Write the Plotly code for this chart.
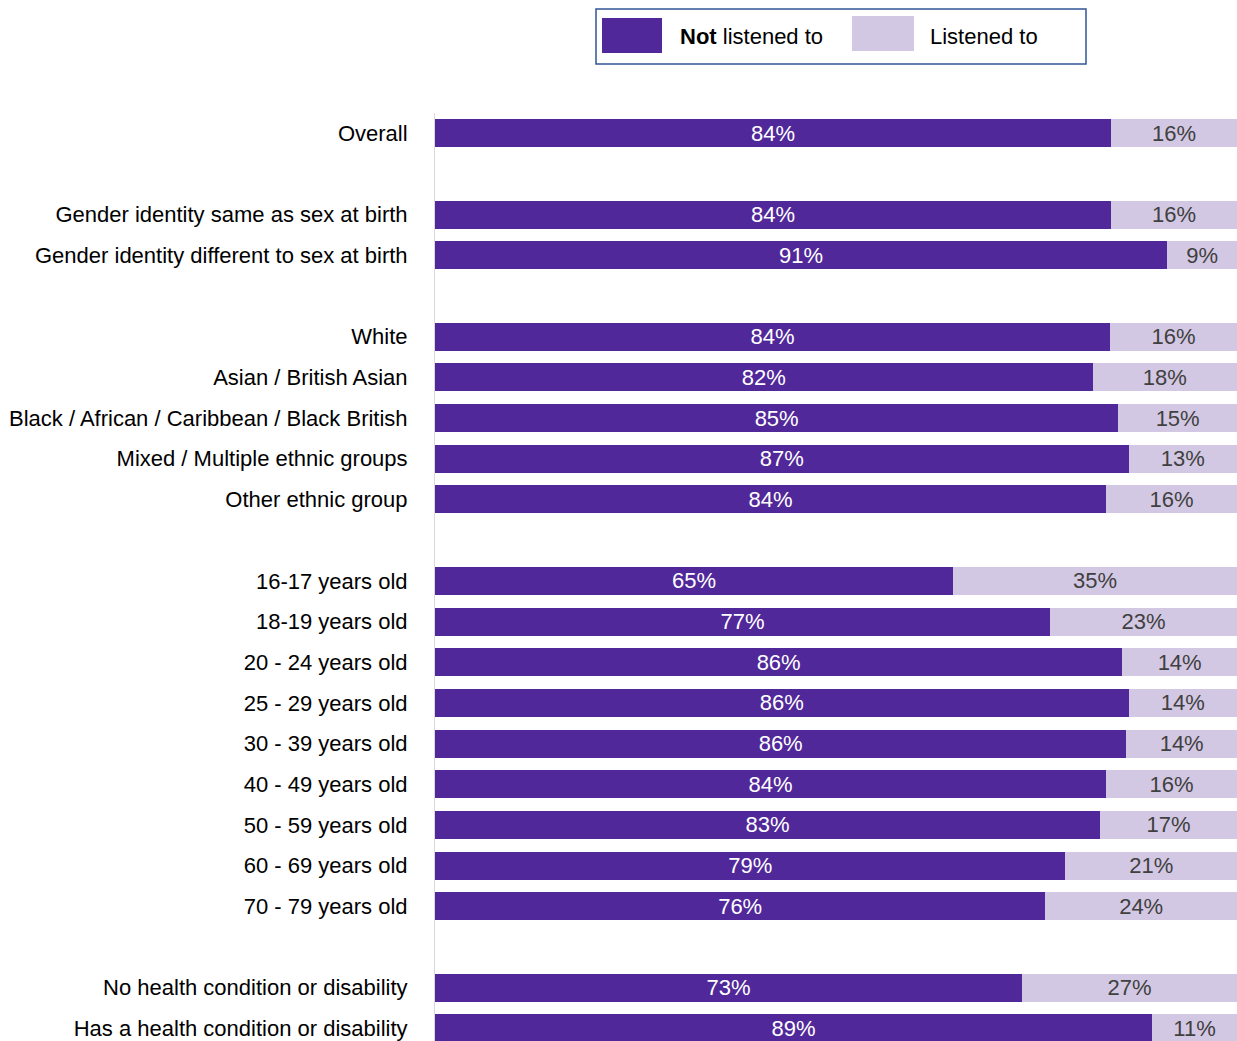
import plotly.graph_objects as go

categories = [
    "Overall", " ",
    "Gender identity same as sex at birth",
    "Gender identity different to sex at birth", "  ",
    "White", "Asian / British Asian",
    "Black / African / Caribbean / Black British",
    "Mixed / Multiple ethnic groups", "Other ethnic group", "   ",
    "16-17 years old", "18-19 years old", "20 - 24 years old",
    "25 - 29 years old", "30 - 39 years old", "40 - 49 years old",
    "50 - 59 years old", "60 - 69 years old", "70 - 79 years old", "    ",
    "No health condition or disability",
    "Has a health condition or disability",
]

bar_categories = [c for c in categories if c.strip()]

not_listened = [84.3, 84.3, 91.3, 84.2, 82.0, 85.2, 86.5, 83.7,
                64.6, 76.7, 85.7, 86.5, 86.2, 83.7, 82.9, 78.6, 76.1,
                73.2, 89.4]
listened = [round(100 - v, 1) for v in not_listened]

not_listened_labels = ["84%", "84%", "91%", "84%", "82%", "85%", "87%", "84%",
                       "65%", "77%", "86%", "86%", "86%", "84%", "83%", "79%", "76%",
                       "73%", "89%"]
listened_labels = ["16%", "16%", "9%", "16%", "18%", "15%", "13%", "16%",
                   "35%", "23%", "14%", "14%", "14%", "16%", "17%", "21%", "24%",
                   "27%", "11%"]

DARK = "#51289A"
LIGHT = "#D3C8E3"
FONT = "Liberation Sans, Arial, sans-serif"
FS = 22

W, H = 1237, 1041
L, R, T, B = 435, 0, 113, 0

fig = go.Figure()
fig.add_trace(go.Bar(
    y=bar_categories, x=not_listened, orientation="h", name="Not listened to",
    marker=dict(color=DARK, line=dict(width=0)),
    text=not_listened_labels, textposition="inside", insidetextanchor="middle",
    textfont=dict(color="white", size=FS, family=FONT), textangle=0,
    constraintext="none", showlegend=False,
))
fig.add_trace(go.Bar(
    y=bar_categories, x=listened, orientation="h", name="Listened to",
    marker=dict(color=LIGHT, line=dict(width=0)),
    text=listened_labels, textposition="inside", insidetextanchor="middle",
    textfont=dict(color="#404040", size=FS, family=FONT), textangle=0,
    constraintext="none", showlegend=False,
))

pw = W - L - R
ph = H - T - B


def px(x):
    return (x - L) / pw


def py(y):
    return (H - B - y) / ph


shapes = [
    dict(type="rect", xref="paper", yref="paper",
         x0=px(596), x1=px(1086), y0=py(64), y1=py(9),
         line=dict(color="#2F5597", width=1.5), fillcolor="white", layer="above"),
    dict(type="rect", xref="paper", yref="paper",
         x0=px(602), x1=px(662), y0=py(53), y1=py(18),
         line=dict(width=0), fillcolor=DARK),
    dict(type="rect", xref="paper", yref="paper",
         x0=px(852), x1=px(914), y0=py(51), y1=py(16),
         line=dict(width=0), fillcolor=LIGHT),
]
annotations = [
    dict(xref="paper", yref="paper", x=px(678), y=py(36), xanchor="left", yanchor="middle",
         text="<b>Not</b> listened to", showarrow=False,
         font=dict(family=FONT, size=FS, color="black")),
    dict(xref="paper", yref="paper", x=px(928), y=py(36), xanchor="left", yanchor="middle",
         text="Listened to", showarrow=False,
         font=dict(family=FONT, size=FS, color="black")),
]

row_px = 40.68
bottom = -0.5 + ph / row_px

fig.update_layout(
    width=W, height=H,
    margin=dict(l=L, r=R, t=T, b=B, pad=0),
    barmode="stack", bargap=1 - 28 / row_px,
    plot_bgcolor="white", paper_bgcolor="white",
    font=dict(family=FONT, size=FS, color="black"),
    uniformtext=dict(mode=False),
    xaxis=dict(range=[0, 100], visible=False, fixedrange=True),
    yaxis=dict(
        type="category", categoryorder="array", categoryarray=categories,
        range=[bottom, -0.5], showgrid=False, zeroline=False,
        showline=True, linecolor="#D9D9D9", linewidth=1,
        ticks="", ticklabelstandoff=22,
        tickfont=dict(family=FONT, size=FS, color="black"),
        tickmode="array", tickvals=categories, ticktext=categories,
        fixedrange=True,
    ),
    shapes=shapes, annotations=annotations,
)

fig.write_html(
    "out.html",
    config={"displayModeBar": False},
    post_script="document.body.style.margin='0';document.body.style.overflow='hidden';",
)
